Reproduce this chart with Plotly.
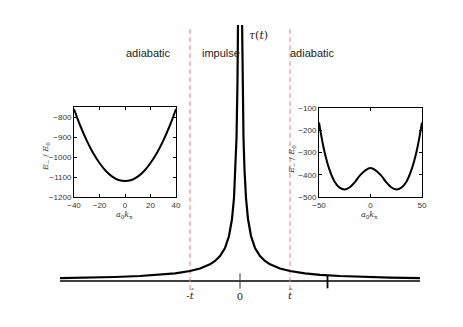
import plotly.graph_objects as go

# main curve tau(t), time in units of t-hat, height in px above the time axis
t_left = [-3.6, -3.0, -2.5, -2.0, -1.6, -1.3, -1.0, -0.8, -0.6, -0.5, -0.4, -0.3,
          -0.22, -0.16, -0.12, -0.09, -0.07, -0.05, -0.035]
tau_left = [2.8, 3.3, 4.0, 5.0, 6.2, 7.7, 10, 12.5, 16.7, 20, 25, 33,
            45, 62, 83, 111, 143, 200, 286]
t_right = [0.035, 0.05, 0.07, 0.09, 0.12, 0.16, 0.22, 0.3, 0.4, 0.5, 0.6, 0.8,
           1.0, 1.3, 1.6, 2.0, 2.5, 3.0, 3.6]
tau_right = [286, 200, 143, 111, 83, 62, 45, 33, 25, 20, 16.7, 12.5,
             10, 7.7, 6.2, 5.0, 4.0, 3.3, 2.8]

t_axis = [-3.6, 3.6]
t_marks = [-1, 0, 1]
t_mark_labels = ["-<i>t̂</i>", "0", "<i>t̂</i>"]
t_arrow = 1.75

# left inset: E-/E0 vs a0 kx (adiabatic, single well)
kx_left = [-40, -35, -30, -25, -20, -15, -10, -5, 0, 5, 10, 15, 20, 25, 30, 35, 40]
e_left = [-760, -845, -918, -980, -1030, -1070, -1098, -1115, -1120,
          -1115, -1098, -1070, -1030, -980, -918, -845, -760]

# right inset: double well
kx_right = [-50, -45, -40, -35, -30, -25, -20, -15, -10, -5, 0,
            5, 10, 15, 20, 25, 30, 35, 40, 45, 50]
e_right = [-165, -290, -375, -430, -458, -466, -456, -432, -402, -380, -370,
           -380, -402, -432, -456, -466, -458, -430, -375, -290, -165]

font = "Liberation Sans, Arial, sans-serif"
serif = "DejaVu Serif, serif"

# page has an 8px body margin, so the figure is drawn 8px in from the corner
OFF = 8
W, H = 463 - OFF, 327 - OFF


def px_x(a, b):
    return [(a - OFF) / W, (b - OFF) / W]


def px_y(top, bottom):
    return [1 - (bottom - OFF) / H, 1 - (top - OFF) / H]


fig = go.Figure()

# time axis
fig.add_trace(go.Scatter(x=t_axis, y=[0, 0], mode="lines",
                         line=dict(color="black", width=1.6)))
# dashed boundaries at -t_hat and t_hat
for tb in [t_marks[0], t_marks[2]]:
    fig.add_trace(go.Scatter(x=[tb, tb], y=[-9, 253], mode="lines",
                             line=dict(color="#f08080", width=1, dash="5px,3px")))
# tau(t) curve, two branches
fig.add_trace(go.Scatter(x=t_left, y=tau_left, mode="lines",
                         line=dict(color="black", width=2.2)))
fig.add_trace(go.Scatter(x=t_right, y=tau_right, mode="lines",
                         line=dict(color="black", width=2.2)))
# tick at 0 and arrow mark
fig.add_trace(go.Scatter(x=[0], y=[0], mode="markers",
                         marker=dict(symbol="line-ns-open", size=11, color="#333",
                                     line=dict(color="#333", width=1)),
                         cliponaxis=False))
fig.add_trace(go.Scatter(x=[t_arrow], y=[-1], mode="markers",
                         marker=dict(symbol="line-ns-open", size=9, color="black",
                                     line=dict(color="black", width=1.8)),
                         cliponaxis=False))
# tick labels
fig.add_trace(go.Scatter(x=t_marks, y=[-15, -16, -15], mode="text",
                         text=t_mark_labels, cliponaxis=False,
                         textfont=dict(family=serif, size=10, color="#222")))

# insets
fig.add_trace(go.Scatter(x=kx_left, y=e_left, mode="lines", line_shape="spline",
                         line=dict(color="black", width=2), xaxis="x2", yaxis="y2"))
fig.add_trace(go.Scatter(x=kx_right, y=e_right, mode="lines", line_shape="spline",
                         line=dict(color="black", width=2), xaxis="x3", yaxis="y3"))

inset_ax = dict(showline=True, linecolor="black", linewidth=1, mirror="ticks",
                ticks="inside", ticklen=3, tickcolor="black", showgrid=False,
                zeroline=False, automargin=False,
                tickfont=dict(family=font, size=8, color="#333"))
ytitle = "<i>E</i><sub>−</sub> / <i>E</i><sub>0</sub>"
xtitle = "<i>a</i><sub>0</sub><i>k</i><sub>x</sub>"
tfont = dict(family=serif, size=8, color="#333")

fig.update_layout(
    width=W, height=H, showlegend=False,
    paper_bgcolor="white", plot_bgcolor="rgba(0,0,0,0)",
    margin=dict(l=0, r=0, t=0, b=0),
    xaxis=dict(domain=px_x(60, 420), range=[-3.6, 3.6], visible=False),
    yaxis=dict(domain=px_y(25, 301), range=[-20, 256], visible=False),
    xaxis2=dict(inset_ax, domain=px_x(74, 176), range=[-40, 40],
                tickvals=[-40, -20, 0, 20, 40], anchor="y2"),
    yaxis2=dict(inset_ax, domain=px_y(107, 197), range=[-1200, -750],
                tickvals=[-1200, -1100, -1000, -900, -800], anchor="x2"),
    xaxis3=dict(inset_ax, domain=px_x(319, 422), range=[-50, 50],
                tickvals=[-50, 0, 50], anchor="y3"),
    yaxis3=dict(inset_ax, domain=px_y(108, 197), range=[-500, -100],
                tickvals=[-500, -400, -300, -200, -100], anchor="x3"),
)

# inset axis titles (page pixel positions)
for txt, cx, cy, ang in [(ytitle, 46, 157, -90), (xtitle, 125, 215, 0),
                         (ytitle, 292, 160, -90), (xtitle, 369, 215, 0)]:
    fig.add_annotation(x=(cx - OFF) / W, y=1 - (cy - OFF) / H, xref="paper", yref="paper",
                       text=txt, textangle=ang, showarrow=False, font=tfont,
                       xanchor="center", yanchor="middle")

labels = [("adiabatic", -1.84, 228), ("impulse", -0.38, 228),
          ("<i>τ</i>(<i>t</i>)", 0.36, 245), ("adiabatic", 1.44, 228)]
for txt, lx, ly in labels:
    fam = serif if "τ" in txt else font
    fig.add_annotation(x=lx, y=ly, xref="x", yref="y", text=txt, showarrow=False,
                       font=dict(family=fam, size=11, color="#222"))

fig.write_html("out.html")
